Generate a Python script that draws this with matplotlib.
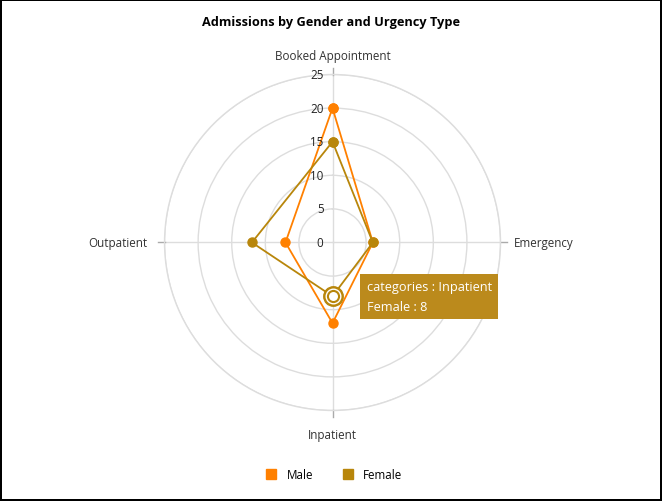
import numpy as np
import matplotlib.pyplot as plt
from matplotlib.lines import Line2D

# data
categories = ["Booked Appointment", "Emergency", "Inpatient", "Outpatient"]
male = [20, 6, 12, 7]
female = [15, 6, 8, 12]
r_ticks = [0, 5, 10, 15, 20, 25]

male_color = '#ff8000'
female_color = '#b8860b'
grid_color = '#dddddd'

plt.rcParams['font.family'] = ['Open Sans', 'DejaVu Sans']

fig = plt.figure(figsize=(6.62, 5.02), dpi=100)
fig.patch.set_edgecolor('black')
fig.patch.set_linewidth(1.5)

ax = fig.add_axes([0.2485, 0.1803, 0.5076, 0.6693], projection='polar')
ax.set_theta_zero_location('N')
ax.set_theta_direction(-1)

theta = np.arange(len(categories)) * 2 * np.pi / len(categories)
theta_closed = np.append(theta, theta[0])

ax.set_ylim(0, 25)
ax.set_yticks(r_ticks[1:])
ax.set_yticklabels([])
ax.set_xticks(theta)
ax.set_xticklabels([])
ax.grid(True, color=grid_color, lw=1)
ax.spines['polar'].set_color(grid_color)
ax.spines['polar'].set_linewidth(1)

# small tick marks past the outer ring
for t in theta:
    ax.plot([t, t], [25, 25.9], color='#aaaaaa', lw=1, clip_on=False)

# radial labels along the top spoke
for r in r_ticks:
    ax.annotate(str(r), (0, r), xytext=(-9, 0), textcoords='offset pixels',
                ha='right', va='center', fontsize=8.4, color='#222222')

# category labels
offsets = [((0, 19), 'center', 'center'),
           ((13, 0), 'left', 'center'),
           ((0, -24), 'center', 'center'),
           ((-17, 0), 'right', 'center')]
for t, name, (off, ha, va) in zip(theta, categories, offsets):
    ax.annotate(name, (t, 25), xytext=off, textcoords='offset pixels',
                ha=ha, va=va, fontsize=8.4, color='#333333', annotation_clip=False)

# series
ax.plot(theta_closed, np.append(male, male[0]), color=male_color, lw=1.3,
        marker='o', ms=6.5, label='Male', clip_on=False)
ax.plot(theta_closed, np.append(female, female[0]), color=female_color, lw=1.3,
        marker='o', ms=6.5, label='Female', clip_on=False)

# hovered point highlight + tooltip
hi = categories.index("Inpatient")
ax.plot(theta[hi], female[hi], 'o', ms=14, color=female_color, zorder=5)
ax.plot(theta[hi], female[hi], 'o', ms=10.5, color='white', zorder=6)
ax.plot(theta[hi], female[hi], 'o', ms=8, mfc='white', mec=female_color, mew=1.5, zorder=7)
ax.annotate(f"categories : {categories[hi]}\nFemale : {female[hi]}",
            (theta[hi], female[hi]), xytext=(34, 0), textcoords='offset pixels',
            ha='left', va='center', fontsize=9.2, color='white', linespacing=1.65,
            bbox=dict(boxstyle='square,pad=0.5', fc='#bb8a1c', ec='none'), zorder=8)

fig.suptitle("Admissions by Gender and Urgency Type", fontsize=9.2,
             fontweight='bold', x=0.5, y=0.956, va='center')

handles = [Line2D([], [], marker='s', ls='none', color=male_color, ms=7, label='Male'),
           Line2D([], [], marker='s', ls='none', color=female_color, ms=7, label='Female')]
fig.legend(handles=handles, loc='center', bbox_to_anchor=(0.5, 0.052), ncol=2,
           frameon=False, fontsize=8.4, handletextpad=0.3, columnspacing=2.0)

fig.savefig('out.png', dpi=100)
